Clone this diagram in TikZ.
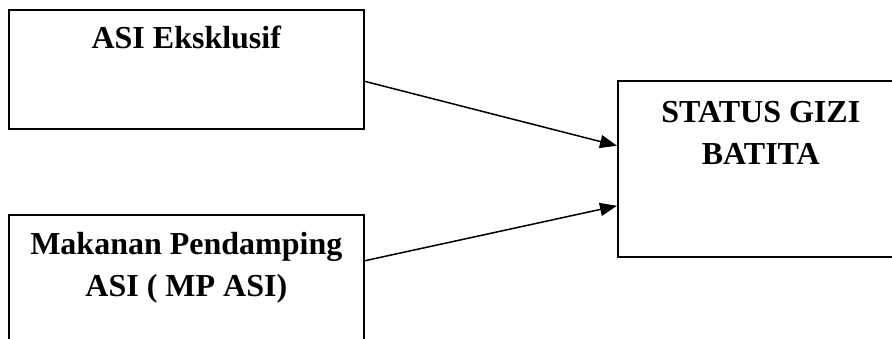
\documentclass[tikz,border=0pt]{standalone}
\usepackage{fontspec}
\setmainfont{Liberation Serif}
\usetikzlibrary{arrows.meta}
\begin{document}
\begin{tikzpicture}[x=1pt,y=1pt]
\tikzset{kotak/.style={draw,line width=1.6pt,rectangle,anchor=north west,inner sep=0pt},
  teks/.style={font=\fontsize{32}{42}\selectfont\bfseries,align=center,anchor=base,inner sep=0pt},
  panah/.style={draw,line width=1.5pt,-{Triangle[length=17pt,width=13pt]}}}
\useasboundingbox (0,0) rectangle (892,-339);
\clip (0,0) rectangle (892,-339);
\node[kotak,minimum width=355pt,minimum height=119pt] (asi) at (8,-9) {};
\node[kotak,minimum width=355pt,minimum height=146pt] (mpasi) at (8,-214) {};
\node[kotak,minimum width=290pt,minimum height=176pt] (gizi) at (617,-80) {};
\node[teks] (t1) at ([yshift=-40pt]asi.north) {ASI Eksklusif};
\node[teks] (t2) at ([yshift=-83pt]mpasi.north) {Makanan Pendamping\\ASI ( MP ASI)};
\node[teks] (t3) at ([xshift=-2pt,yshift=-85pt]gizi.north) {STATUS GIZI\\BATITA};
\path[panah] ([yshift=-12pt]asi.east) -- ([yshift=23pt]gizi.west);
\path[panah] ([yshift=27pt]mpasi.east) -- ([yshift=-37pt]gizi.west);
\end{tikzpicture}
\end{document}
